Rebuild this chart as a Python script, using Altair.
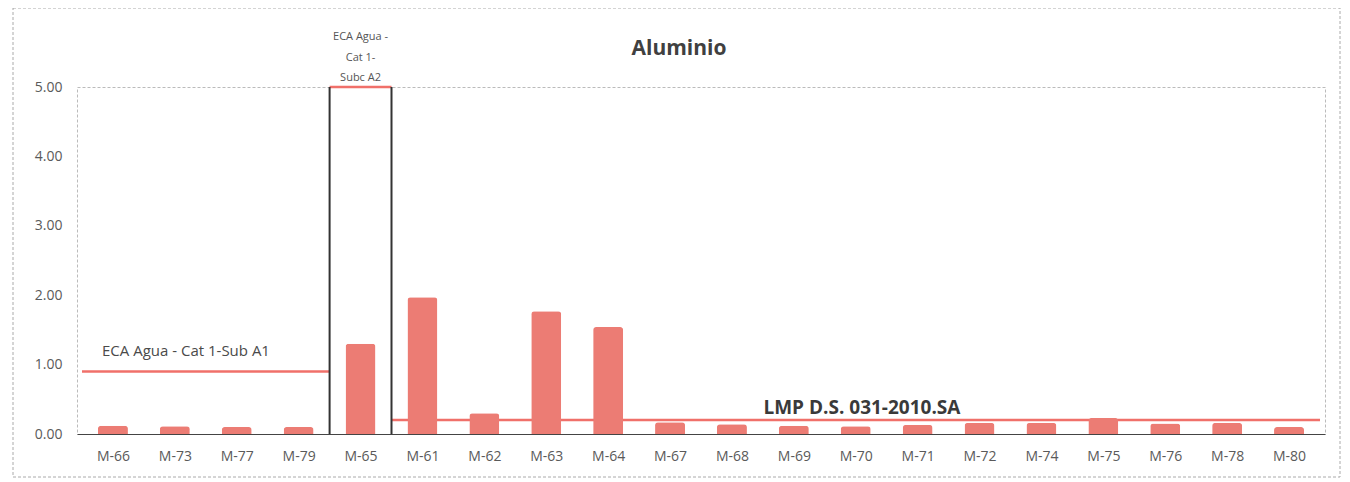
import altair as alt
import pandas as pd

categories = ["M-66", "M-73", "M-77", "M-79", "M-65", "M-61", "M-62", "M-63", "M-64", "M-67",
              "M-68", "M-69", "M-70", "M-71", "M-72", "M-74", "M-75", "M-76", "M-78", "M-80"]
values = [0.12, 0.11, 0.10, 0.10, 1.30, 1.97, 0.30, 1.77, 1.54, 0.17,
          0.14, 0.12, 0.11, 0.13, 0.16, 0.16, 0.23, 0.15, 0.16, 0.10]

# reference limits: (label, first category index, last category index, value)
limit_labels = ["ECA Agua - Cat 1-Sub A1", "ECA Agua -\nCat 1-\nSubc A2", "LMP D.S. 031-2010.SA"]
limit_start = [0, 4, 5]
limit_end = [3, 4, 19]
limit_values = [0.9, 5.0, 0.2]

title_text = "Aluminio"

FONT = "Open Sans"
RED = "#F0706A"
BAR = "#EC7C74"

bars_df = pd.DataFrame({"idx": list(range(len(categories))), "cat": categories, "value": values})
lim_df = pd.DataFrame({
    "label": limit_labels,
    "x0": [s - 0.5 for s in limit_start],
    "x1": [e + 0.5 for e in limit_end],
    "value": limit_values,
})
sep_df = pd.DataFrame({"x": [3.5, 4.5], "y0": [0, 0], "y1": [5, 5]})

label_js = "[" + ",".join("'%s'" % c for c in categories) + "]"

xscale = alt.Scale(domain=[-0.5, len(categories) - 0.5], nice=False, zero=False)
yscale = alt.Scale(domain=[0, 5], nice=False)

xaxis = alt.Axis(values=list(range(len(categories))), labelExpr=label_js + "[datum.value]",
                 title=None, grid=False, ticks=False, labelFont=FONT, labelFontSize=14,
                 labelColor="#5a5a5a", labelPadding=15, domainColor="#444444", domainWidth=1)
yaxis = alt.Axis(values=[0, 1, 2, 3, 4, 5], format=".2f", title=None, grid=False, ticks=False,
                 labelFont=FONT, labelFontSize=14, labelColor="#5a5a5a", labelPadding=15,
                 domain=False)

base = alt.Chart(bars_df)

bars = base.mark_bar(size=30, color=BAR, cornerRadiusEnd=3).encode(
    x=alt.X("idx:Q", scale=xscale, axis=xaxis),
    y=alt.Y("value:Q", scale=yscale, axis=yaxis),
    tooltip=["cat", "value"],
)

limits = alt.Chart(lim_df).mark_rule(color=RED, strokeWidth=2.5).encode(
    x=alt.X("x0:Q", scale=xscale),
    x2="x1:Q",
    y=alt.Y("value:Q", scale=yscale),
)

seps = alt.Chart(sep_df).mark_rule(color="#333333", strokeWidth=2).encode(
    x=alt.X("x:Q", scale=xscale),
    y=alt.Y("y0:Q", scale=yscale),
    y2="y1:Q",
)

a1 = alt.Chart(lim_df.iloc[[0]]).mark_text(
    align="left", baseline="middle", dx=20, dy=-21, font=FONT, fontSize=15, color="#4a4a4a"
).encode(x="x0:Q", y="value:Q", text="label:N")

a2 = alt.Chart(lim_df.iloc[[1]].assign(xm=4)).mark_text(
    align="center", baseline="top", dy=-56, font=FONT, fontSize=11, color="#555555",
    lineBreak="\n", lineHeight=20.5
).encode(x="xm:Q", y="value:Q", text="label:N")

lmp = alt.Chart(lim_df.iloc[[2]].assign(xm=12.1)).mark_text(
    align="center", baseline="middle", dy=-12, font=FONT, fontSize=19, fontWeight="bold",
    color="#3a3a3a"
).encode(x="xm:Q", y="value:Q", text="label:N")

title = alt.Chart(pd.DataFrame({"t": [title_text]})).mark_text(
    align="center", baseline="middle", font=FONT, fontSize=21, fontWeight="bold",
    color="#404040"
).encode(x=alt.value(602), y=alt.value(-38), text="t:N")

frame = alt.Chart(bars_df.iloc[[0]]).mark_rect(
    fill=None, stroke="#aaaaaa", strokeDash=[3, 2], strokeWidth=1, clip=False
).encode(x=alt.value(-64), x2=alt.value(1263), y=alt.value(-79), y2=alt.value(390))

chart = alt.layer(frame, limits, bars, seps, a1, a2, lmp, title).properties(
    width=1248,
    height=347,
    autosize=alt.AutoSizeParams(type="none"),
    padding={"left": 69, "top": 79, "right": 17, "bottom": 46},
).configure_view(stroke="#bbbbbb", strokeWidth=1, strokeDash=[3, 2])

chart.save("out.html", embed_options={"renderer": "svg", "actions": False})
